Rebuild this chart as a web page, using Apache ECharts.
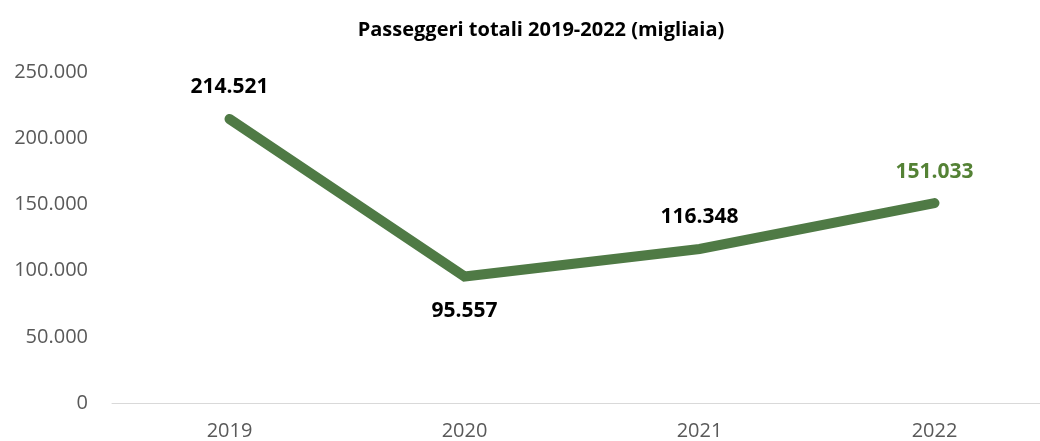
<!DOCTYPE html>
<html>
<head>
<meta charset="utf-8">
<script src="https://cdn.jsdelivr.net/npm/echarts@6/dist/echarts.min.js"></script>
<style>
  html, body { margin: 0; padding: 0; background: #ffffff; overflow: hidden; }
  /* la tela è un po' più larga della finestra: l'asse prosegue oltre il bordo destro */
  #chart { width: 1052px; height: 441px; }
</style>
</head>
<body>
<div id="chart"></div>
<script>
// Anni e passeggeri totali (migliaia)
const years = ['2019', '2020', '2021', '2022'];
const passengers = [214521, 95557, 116348, 151033];
// Posizione dell'etichetta per ogni punto
const labelSides = ['top', 'bottom', 'top', 'top'];
const labelColors = ['#000000', '#000000', '#000000', '#548235'];
const yTicks = { min: 0, max: 250000, step: 50000 };

// Separatore delle migliaia all'italiana
function fmt(v) {
  return String(v).replace(/\B(?=(\d{3})+(?!\d))/g, '.');
}

const lineColor = '#4f7a45';
const chart = echarts.init(document.getElementById('chart'), null, { renderer: 'canvas' });

chart.setOption({
  animation: false,
  backgroundColor: '#ffffff',
  title: {
    text: 'Passeggeri totali 2019-2022 (migliaia)',
    left: 536,
    textAlign: 'center',
    top: 15,
    textStyle: {
      fontFamily: 'Open Sans',
      fontWeight: 'bold',
      fontSize: 20,
      color: '#000000'
    }
  },
  grid: { left: 112, right: 0, top: 72, bottom: 36, containLabel: false },
  xAxis: {
    type: 'category',
    data: years,
    boundaryGap: true,
    axisLine: { show: true, lineStyle: { color: '#d9d9d9', width: 1 } },
    axisTick: { show: false },
    axisLabel: {
      fontFamily: 'Open Sans',
      fontSize: 20,
      color: '#595959',
      margin: 18
    }
  },
  yAxis: {
    type: 'value',
    min: yTicks.min,
    max: yTicks.max,
    interval: yTicks.step,
    axisLine: { show: false },
    axisTick: { show: false },
    splitLine: { show: false },
    axisLabel: {
      fontFamily: 'Open Sans',
      fontSize: 20,
      color: '#595959',
      margin: 24,
      formatter: fmt
    }
  },
  series: [{
    type: 'line',
    data: passengers.map((v, i) => ({
      value: v,
      label: {
        position: labelSides[i],
        color: labelColors[i],
        distance: labelSides[i] === 'top' ? 19 : 22
      }
    })),
    symbol: 'circle',
    symbolSize: 4,
    showSymbol: true,
    itemStyle: { color: lineColor },
    lineStyle: { color: lineColor, width: 10, cap: 'round', join: 'miter' },
    label: {
      show: true,
      fontFamily: 'Open Sans',
      fontWeight: 'bold',
      fontSize: 21,
      formatter: p => fmt(p.value)
    }
  }]
});
</script>
</body>
</html>
